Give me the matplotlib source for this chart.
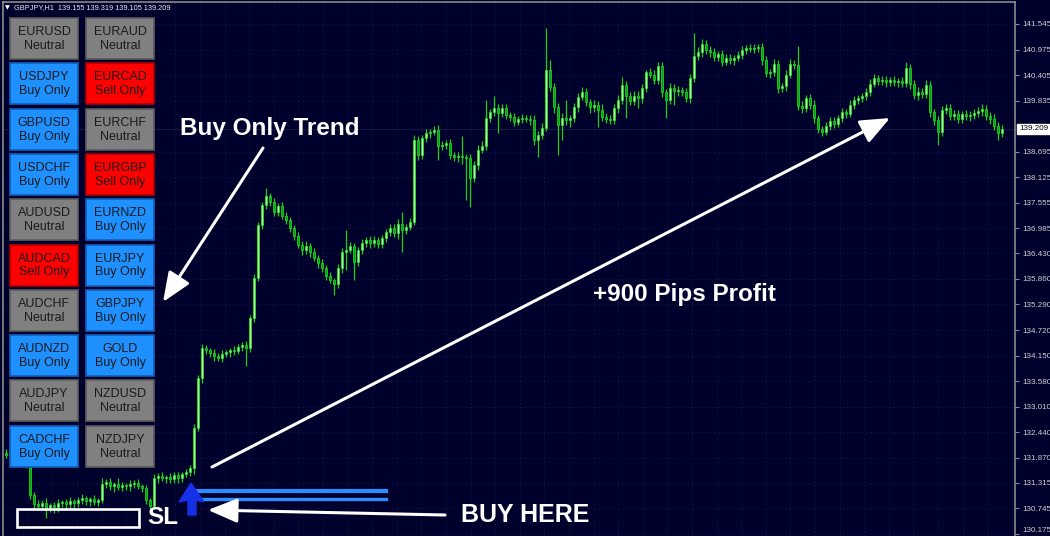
import numpy as np
import matplotlib
matplotlib.use("Agg")
import matplotlib.pyplot as plt
from matplotlib.patches import Rectangle, Polygon

# ---- data (GBPJPY H1 candles) ----
open0 = 131.98
closes = [
    131.93, 132.00, 131.89, 131.93, 131.82, 131.71, 131.04, 130.84, 130.80, 130.86,
    130.75, 130.82, 130.77, 130.86, 130.89, 130.84, 130.91, 130.86, 130.93, 130.97,
    130.91, 130.95, 130.89, 130.93, 131.29, 131.33, 131.24, 131.29, 131.22, 131.26,
    131.24, 131.29, 131.31, 131.24, 131.20, 130.93, 130.80, 131.42, 131.47, 131.42,
    131.44, 131.40, 131.49, 131.42, 131.51, 131.55, 131.64, 132.54, 133.65, 134.32,
    134.27, 134.21, 134.14, 134.10, 134.19, 134.23, 134.27, 134.25, 134.34, 134.39,
    134.32, 134.99, 135.88, 137.06, 137.51, 137.71, 137.58, 137.35, 137.49, 137.26,
    137.17, 137.00, 136.82, 136.62, 136.51, 136.59, 136.46, 136.33, 136.22, 136.10,
    135.93, 135.84, 135.75, 136.10, 136.46, 136.51, 136.59, 136.24, 136.51, 136.66,
    136.73, 136.66, 136.73, 136.64, 136.77, 136.91, 137.00, 136.88, 137.09, 136.95,
    137.02, 137.13, 138.96, 138.62, 139.00, 139.11, 139.14, 139.18, 138.82, 138.85,
    138.89, 138.62, 138.58, 138.60, 138.58, 138.56, 138.11, 138.40, 138.74, 138.82,
    139.45, 139.58, 139.67, 139.56, 139.67, 139.52, 139.47, 139.36, 139.43, 139.45,
    139.43, 139.40, 138.96, 139.07, 139.23, 140.52, 140.14, 139.69, 139.29, 139.45,
    139.40, 139.45, 139.69, 139.92, 140.03, 139.81, 139.69, 139.74, 139.63, 139.47,
    139.43, 139.40, 139.67, 139.85, 140.18, 139.94, 139.83, 139.94, 139.89, 140.12,
    140.47, 140.41, 140.30, 140.61, 140.03, 139.85, 140.12, 140.05, 140.07, 140.03,
    139.89, 140.34, 140.83, 140.92, 141.10, 140.97, 140.92, 140.81, 140.88, 140.70,
    140.79, 140.74, 140.79, 140.85, 140.97, 141.01, 140.99, 141.01, 141.03, 140.74,
    140.45, 140.47, 140.65, 140.12, 140.16, 140.41, 140.65, 140.63, 139.72, 139.67,
    139.89, 139.74, 139.45, 139.20, 139.14, 139.27, 139.38, 139.32, 139.45, 139.58,
    139.54, 139.74, 139.85, 139.89, 139.94, 140.03, 140.21, 140.34, 140.27, 140.30,
    140.25, 140.30, 140.25, 140.27, 140.23, 140.56, 140.21, 139.96, 140.03, 139.98,
    140.18, 139.58, 139.40, 139.14, 139.63, 139.67, 139.49, 139.54, 139.43, 139.54,
    139.49, 139.52, 139.56, 139.60, 139.65, 139.49, 139.43, 139.27, 139.11, 139.209,
]
# wick lengths above / below the body, in pips (0.01)
wick_hi = [
    8, 6, 5, 9, 4, 6, 5, 7, 8, 6, 12, 5, 7, 9, 4, 6, 8, 5, 7, 10, 6, 5, 9, 4, 14,
    6, 8, 5, 12, 7, 5, 9, 6, 8, 5, 7, 4, 9, 6, 8, 5, 10, 6, 7, 5, 8, 6, 9, 7, 8,
    6, 5, 8, 7, 9, 5, 6, 10, 7, 6, 8, 7, 9, 8, 6, 18, 7, 9, 6, 8, 10, 7, 6, 9, 8,
    12, 6, 8, 7, 9, 6, 8, 5, 10, 8, 45, 9, 8, 7, 10, 6, 8, 9, 7, 8, 6, 9, 8, 10, 27,
    7, 8, 11, 9, 8, 10, 7, 9, 11, 8, 6, 9, 7, 8, 45, 7, 9, 8, 10, 12, 40, 8, 27, 9, 10,
    8, 7, 9, 6, 8, 7, 9, 12, 8, 10, 94, 22, 8, 9, 10, 40, 7, 9, 8, 12, 9, 7, 10, 8, 12,
    8, 9, 10, 12, 18, 9, 8, 10, 11, 9, 5, 10, 12, 8, 9, 7, 10, 8, 9, 7, 8, 10, 51, 11, 12,
    9, 8, 10, 7, 9, 8, 9, 7, 10, 8, 7, 9, 8, 7, 9, 10, 8, 12, 9, 8, 10, 12, 9, 42, 10,
    8, 9, 10, 7, 8, 9, 8, 10, 7, 9, 8, 10, 9, 8, 7, 9, 10, 8, 7, 9, 8, 7, 9, 8, 10,
    13, 9, 8, 10, 9, 12, 9, 8, 10, 9, 8, 10, 9, 8, 7, 9, 8, 10, 9, 12, 8, 9, 10, 8, 9,
]
wick_lo = [
    7, 9, 6, 8, 10, 7, 9, 12, 10, 8, 22, 9, 14, 10, 8, 12, 9, 11, 8, 10, 9, 12, 8, 10, 7,
    9, 8, 14, 7, 10, 8, 12, 9, 7, 10, 9, 9, 8, 10, 7, 12, 8, 9, 10, 8, 7, 9, 12, 8, 10,
    9, 8, 10, 7, 9, 8, 10, 9, 7, 8, 40, 8, 9, 7, 8, 9, 10, 8, 9, 7, 8, 10, 9, 8, 12,
    9, 10, 8, 12, 9, 10, 8, 25, 9, 10, 40, 8, 40, 9, 10, 8, 12, 9, 10, 8, 9, 10, 8, 12, 50,
    9, 8, 7, 10, 8, 9, 10, 8, 31, 9, 10, 8, 9, 12, 16, 94, 65, 9, 10, 8, 9, 10, 8, 45, 9,
    10, 8, 9, 7, 9, 8, 10, 12, 38, 10, 8, 9, 12, 67, 33, 10, 16, 9, 10, 8, 9, 12, 10, 38, 9,
    10, 9, 8, 10, 9, 49, 10, 9, 22, 10, 9, 8, 10, 9, 11, 40, 9, 31, 10, 8, 9, 10, 8, 9, 10,
    9, 10, 8, 9, 10, 8, 9, 10, 8, 9, 10, 8, 9, 10, 12, 9, 10, 8, 11, 9, 10, 8, 9, 10, 12,
    9, 10, 12, 9, 10, 8, 9, 10, 8, 9, 10, 8, 9, 10, 8, 9, 10, 8, 9, 8, 10, 9, 8, 10, 9,
    10, 12, 9, 10, 8, 9, 12, 10, 29, 9, 10, 9, 8, 10, 9, 8, 10, 9, 8, 10, 9, 12, 10, 16, 9,
]

tick_values = [141.545, 140.975, 140.405, 139.835, 138.695, 138.125, 137.555,
               136.985, 136.430, 135.860, 135.290, 134.720, 134.150, 133.580,
               133.010, 132.440, 131.870, 131.315, 130.745, 130.175]
tick_labels = ["%.3f" % v for v in tick_values]
last_price = 139.209
title = "GBPJPY,H1  139.155 139.319 139.105 139.209"

pairs_left = ["EURUSD", "USDJPY", "GBPUSD", "USDCHF", "AUDUSD",
              "AUDCAD", "AUDCHF", "AUDNZD", "AUDJPY", "CADCHF"]
state_left = ["Neutral", "Buy Only", "Buy Only", "Buy Only", "Neutral",
              "Sell Only", "Neutral", "Buy Only", "Neutral", "Buy Only"]
pairs_right = ["EURAUD", "EURCAD", "EURCHF", "EURGBP", "EURNZD",
               "EURJPY", "GBPJPY", "GOLD", "NZDUSD", "NZDJPY"]
state_right = ["Neutral", "Sell Only", "Neutral", "Sell Only", "Buy Only",
               "Buy Only", "Buy Only", "Buy Only", "Neutral", "Neutral"]

# ---- style ----
bg = "#00002c"
frame = "#8a8a8a"
grid_c = "#1b1b4c"
btn_face = {"Neutral": "#808080", "Buy Only": "#1e90ff", "Sell Only": "#ff0000"}
btn_edge = {"Neutral": "#5c5c5c", "Buy Only": "#0f5fb8", "Sell Only": "#b00000"}
small_font = "Liberation Sans"

W, H = 1050, 536
fig = plt.figure(figsize=(W / 100, H / 100), dpi=100, facecolor=bg)

# chart area: pixel x 3..1015, y 2..536 ; 4 px per bar starting at x=6
ax = fig.add_axes([3 / W, 0, 1012 / W, 534 / H])
ax.set_facecolor(bg)
ax.set_xlim(-0.75, 252.25)
ax.set_ylim(142.08 - 0.0223 * 536, 142.08 - 0.0223 * 2)

opens = np.array([open0] + closes[:-1])
closes_a = np.array(closes)
top = np.maximum(opens, closes_a)
bot = np.minimum(opens, closes_a)
highs = top + np.array(wick_hi) / 100
lows = bot - np.array(wick_lo) / 100
x = np.arange(len(closes))
bull = closes_a >= opens

# grid
for v in tick_values:
    ax.axhline(v, color=grid_c, lw=0.7, ls=(0, (1, 3)), zorder=0)
for gx in np.arange(-0.7, 252, 6.15):
    ax.axvline(gx, color=grid_c, lw=0.7, ls=(0, (1, 3)), zorder=0)
ax.axhline(last_price, color="#17173f", lw=0.8, zorder=0)

ax.vlines(x, lows, highs, color="#18d018", lw=0.9, zorder=2)
ax.bar(x, np.maximum(top - bot, 0.008), bottom=bot, width=0.68,
       color=np.where(bull, "#aef59a", "#0ba20b"), edgecolor="#22e622",
       linewidth=0.5, zorder=3)

for s in ["left", "top", "right"]:
    ax.spines[s].set_color(frame)
    ax.spines[s].set_linewidth(1.2)
ax.spines["bottom"].set_visible(False)
ax.set_xticks([])
ax.yaxis.tick_right()
ax.set_yticks(tick_values)
ax.set_yticklabels(tick_labels, family=small_font)
ax.tick_params(axis="y", colors=frame, labelcolor="#d2d2d2", length=3,
               width=0.8, pad=2, labelsize=5.8)
# lowest label sits on the bottom edge: keep it inside the picture
ax.get_yticklabels()[-1].set_va("bottom")

# ---- overlay in pixel coordinates ----
ov = fig.add_axes([0, 0, 1, 1])
ov.set_xlim(0, W)
ov.set_ylim(H, 0)
ov.axis("off")
ov.patch.set_alpha(0)

ov.text(5, 7.5, "▼", color="white", fontsize=4.5, va="center", ha="left")
ov.text(14, 7.5, title, color="#e8e8e8", fontsize=5.3, va="center", ha="left",
        family=small_font)
ov.text(1019, 129, "%.3f" % last_price, color="black", fontsize=5.8,
        va="center", ha="left", family=small_font,
        bbox=dict(boxstyle="square,pad=0.2", fc="white", ec="white"))

# signal buttons
for col, (pairs, states) in enumerate([(pairs_left, state_left),
                                       (pairs_right, state_right)]):
    bx = 10 + 76 * col
    for r, (p, s) in enumerate(zip(pairs, states)):
        by = 18 + 45.3 * r
        ov.add_patch(Rectangle((bx, by), 68, 41, fc=btn_face[s],
                               ec=btn_edge[s], lw=1.2, zorder=5))
        ov.text(bx + 34, by + 14, p, ha="center", va="center", fontsize=9,
                color="#1a1a1a", family="Liberation Sans", zorder=6)
        ov.text(bx + 34, by + 28, s, ha="center", va="center", fontsize=9,
                color="#1a1a1a", family="Liberation Sans", zorder=6)

# buy signal: blue lines and arrow
ov.plot([190, 386], [491, 491], color="#2a8cff", lw=3.0, zorder=4)
ov.plot([190, 386], [499, 499], color="#2a8cff", lw=2.4, zorder=4)
ov.add_patch(Polygon([(179, 502), (191, 483), (204, 502), (196, 500),
                      (196, 515), (188, 515), (188, 500)],
                     closed=True, fc="#1630e8", ec="#1630e8", zorder=5))

# stop-loss box
ov.add_patch(Rectangle((17, 509), 122, 18, fill=False, ec="white", lw=1.9,
                       zorder=6))

# annotations
white_bold = dict(color="white", fontweight="bold", family="Liberation Sans",
                  va="center", ha="center", zorder=7)
ov.text(270, 128, "Buy Only Trend", fontsize=17.5, **white_bold)
ov.text(684, 294, "+900 Pips Profit", fontsize=17.5, **white_bold)
ov.text(525, 515, "BUY HERE", fontsize=18, **white_bold)
ov.text(163, 518, "SL", fontsize=17.5, **white_bold)

arrow = dict(arrowstyle="-|>,head_length=1.2,head_width=0.5", color="white",
             lw=2.2, mutation_scale=15, shrinkA=0, shrinkB=0)
ov.annotate("", xy=(163, 302), xytext=(263, 148), arrowprops=arrow, zorder=7)
ov.annotate("", xy=(890, 118), xytext=(212, 467), arrowprops=arrow, zorder=7)
ov.annotate("", xy=(208, 510), xytext=(445, 515), arrowprops=arrow, zorder=7)

fig.savefig("out.png", dpi=100, facecolor=bg)
